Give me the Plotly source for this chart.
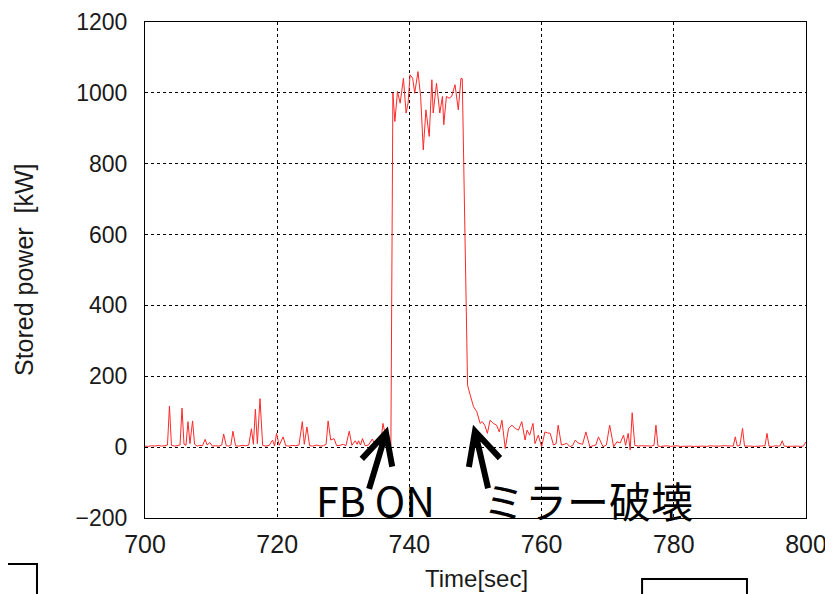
import plotly.graph_objects as go

# ---- data ----
time_s = [
    700.0, 700.5, 701.0, 701.5, 702.0, 702.5, 703.0, 703.4, 703.7, 704.0, 704.5, 705.0, 705.3, 705.6,
    705.9, 706.2, 706.5, 706.8, 707.2, 707.5, 707.9, 708.3, 708.7, 709.1, 709.4, 709.8, 710.2, 710.7,
    711.2, 711.6, 711.9, 712.3, 712.7, 713.0, 713.3, 713.7, 714.2, 714.7, 715.2, 715.7, 716.1, 716.4,
    716.7, 717.0, 717.4, 717.8, 718.3, 718.8, 719.3, 719.6, 719.9, 720.3, 720.9, 721.3, 721.8, 722.3,
    722.8, 723.3, 723.8, 724.1, 724.5, 724.9, 725.4, 726.0, 726.5, 727.0, 727.4, 727.7, 728.1, 728.6,
    729.0, 729.5, 730.0, 730.4, 730.9, 731.3, 731.8, 732.1, 732.3, 732.6, 732.9, 733.3, 733.8, 734.4,
    734.8, 735.3, 735.7, 736.0, 736.3, 736.6, 736.9, 737.2,
    737.5, 737.8, 738.2, 738.6, 739.1, 739.5, 739.8, 740.1, 740.5, 740.8, 741.3, 741.7, 742.1, 742.5,
    743.0, 743.4, 743.6, 744.1, 744.6, 745.0, 745.2, 745.6, 746.0, 746.4, 746.9, 747.4, 747.8, 748.0,
    748.8, 749.2, 749.7, 750.2, 750.7, 751.0, 751.4, 751.8, 752.2, 752.7, 753.2, 753.6, 754.0, 754.5,
    755.0, 755.5, 756.0, 756.5, 757.0, 757.5, 757.8, 758.2, 758.7, 759.0, 759.5, 760.0, 760.5, 760.9,
    761.3, 761.8, 762.2, 762.5, 763.0, 763.4, 763.8, 764.3, 764.7, 765.1, 765.5, 765.8, 766.2, 766.7,
    767.3, 767.8, 768.2, 768.6, 769.3, 769.8, 770.3, 770.9, 771.4, 771.9, 772.4, 772.7, 773.1, 773.4,
    773.7, 774.1, 774.6, 775.1, 775.6, 776.1, 776.6, 777.0, 777.3, 777.6, 778.0, 778.5, 779.0, 779.5,
    780.0, 780.5, 781.0, 781.5, 782.0, 782.5, 783.0, 783.5, 784.0, 784.5, 785.0, 785.5, 786.0, 786.5,
    787.0, 787.5, 788.0, 788.5, 789.0, 789.3, 789.6, 790.0, 790.4, 790.7, 791.2, 791.7, 792.2, 792.7,
    793.2, 793.8, 794.1, 794.4, 794.9, 795.4, 795.8, 796.1, 796.4, 796.7, 797.2, 797.7, 798.2, 798.7,
    799.2, 799.6, 800.0,
]
stored_kw = [
    3, 2, 4, 3, 5, 3, 4, 6, 116, 5, 3, 4, 6, 110,
    8, 5, 72, 10, 74, 8, 3, 5, 4, 22, 6, 13, 3, 4,
    3, 6, 37, 4, 3, 6, 45, 4, 3, 5, 4, 6, 52, 8,
    107, 10, 137, 5, 3, 5, 20, 3, 39, 5, 29, 4, 3, 5,
    4, 6, 72, 8, 57, 4, 3, 6, 3, 4, 8, 74, 20, 24,
    4, 5, 8, 4, 45, 5, 18, 8, 18, 6, 24, 4, 6, 23,
    5, 8, 20, 67, 40, 51, 10, 5,
    1000, 919, 1004, 971, 1041, 943, 971, 1051, 1041, 999, 1060, 990, 839, 952,
    877, 1037, 943, 1027, 943, 990, 910, 990, 985, 990, 1023, 952, 1041, 1040,
    175, 147, 114, 100, 67, 72, 62, 39, 76, 67, 62, 43, 76, -4,
    53, 62, 53, 48, 72, 20, 48, 34, 67, 10, 34, 1, 43, 40,
    39, 6, 10, 62, 6, 8, 11, 1, 5, 20, 12, 10, 8, 43,
    1, 4, 6, 29, 1, 6, 62, 1, 15, 12, 34, 5, 39, -8,
    97, 5, 3, 4, 3, 4, 3, 5, 62, 3, 2, 3, 4, 2,
    3, 4, 2, 3, 4, 3, 2, 3, 4, 3, 2, 4, 3, 2,
    3, 4, 3, 2, 3, 29, 3, 5, 53, 3, 4, 3, 2, 3,
    4, 4, 39, 3, 2, 4, 3, 4, 18, 3, 2, 3, 4, 3,
    2, 3, 15,
]

x_ticks = [700, 720, 740, 760, 780, 800]
y_ticks = [-200, 0, 200, 400, 600, 800, 1000, 1200]

# arrow geometry in data units: (left barb, tip, right barb, tail)
arrow_fb = [(732.8, -33), (736.46, 40), (737.4, -55), (733.9, -118)]
arrow_mirror = [(749.0, -56), (749.92, 45), (753.7, -31), (751.9, -116)]

fig = go.Figure()
fig.add_trace(go.Scatter(
    x=time_s, y=stored_kw, mode="lines",
    line=dict(color="rgb(255,40,40)", width=1),
    showlegend=False, hoverinfo="skip",
))

shapes = []
for a in (arrow_fb, arrow_mirror):
    (lx, ly), (tx, ty), (rx, ry), (bx, by) = a
    path = f"M {lx},{ly} L {tx},{ty} L {rx},{ry} M {tx},{ty} L {bx},{by}"
    shapes.append(dict(type="path", xref="x", yref="y", path=path,
                       line=dict(color="black", width=6)))

# slide remnants (boxes cut off at the bottom)
shapes.append(dict(type="rect", xref="paper", yref="paper",
                   x0=-0.23, x1=-0.1634, y0=-0.17, y1=-0.0927,
                   line=dict(color="black", width=2)))
shapes.append(dict(type="rect", xref="paper", yref="paper",
                   x0=0.752, x1=0.9107, y0=-0.17, y1=-0.123,
                   line=dict(color="black", width=2)))

annotations = [
    dict(text="FB ON", xref="paper", yref="paper", x=0.348, y=0.038,
         xanchor="center", yanchor="middle", showarrow=False,
         font=dict(family="Noto Sans CJK JP", size=41, color="black")),
    dict(text="ミラー破壊", xref="paper", yref="paper", x=0.670, y=0.038,
         xanchor="center", yanchor="middle", showarrow=False,
         font=dict(family="Noto Sans CJK JP", size=42, color="black")),
    dict(text="Stored power  [kW]", xref="paper", yref="paper", x=-0.183, y=0.5,
         xanchor="center", yanchor="middle", textangle=-90, showarrow=False,
         font=dict(family="Liberation Sans, Arial", size=25, color="#1a1a1a")),
    dict(text="Time[sec]", xref="paper", yref="paper", x=0.5008, y=-0.121,
         xanchor="center", yanchor="middle", showarrow=False,
         font=dict(family="Liberation Sans, Arial", size=24, color="#1a1a1a")),
]

fig.update_layout(
    width=825, height=586, autosize=False,
    margin=dict(l=137, r=27, t=14, b=76, autoexpand=False),
    paper_bgcolor="white", plot_bgcolor="white",
    shapes=shapes, annotations=annotations,
    xaxis=dict(range=[700, 800], tickvals=x_ticks, ticks="", showgrid=True,
               gridcolor="black", griddash="dot", gridwidth=1,
               showline=True, linecolor="black", linewidth=1, mirror=True,
               zeroline=False, ticklabelstandoff=4, automargin=False,
               tickfont=dict(family="Liberation Sans, Arial", size=25, color="#1a1a1a")),
    yaxis=dict(range=[-200, 1200], tickvals=y_ticks, ticks="", showgrid=True,
               gridcolor="black", griddash="dot", gridwidth=1,
               showline=True, linecolor="black", linewidth=1, mirror=True,
               zeroline=False, ticklabelstandoff=12, automargin=False,
               tickfont=dict(family="Liberation Sans, Arial", size=23, color="#1a1a1a")),
)

fig.write_html("out.html")
